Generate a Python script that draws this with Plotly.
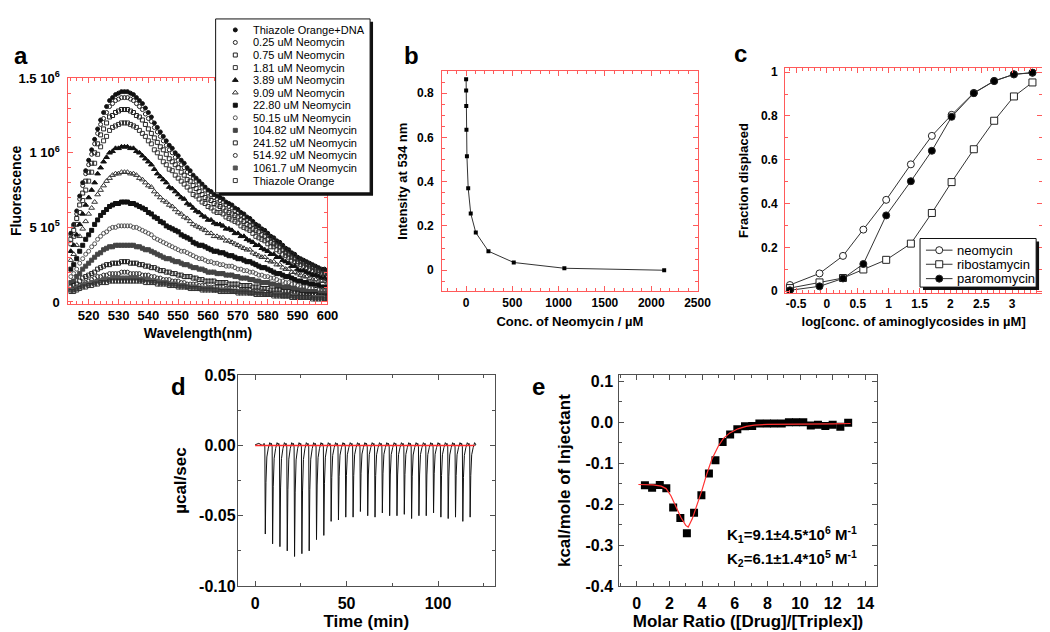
import plotly.graph_objects as go

W, H = 1050, 632
FONT = "Liberation Sans"
RED = "#ff5a5a"
FRAME = "#505050"

# ---------------- panel a: emission spectra (fluorescence, units of 1e4 counts) ----------------
wavelength_nm = list(range(514, 601))
spectra_labels = ["Thiazole Orange+DNA", "0.25 uM Neomycin", "0.75 uM Neomycin", "1.81 uM Neomycin",
                  "3.89 uM Neomycin", "9.09 uM Neomycin", "22.80 uM Neomycin", "50.15 uM Neomycin",
                  "104.82 uM Neomycin", "241.52 uM Neomycin", "514.92 uM Neomycin", "1061.7 uM Neomycin",
                  "Thiazole Orange"]
fl_to_dna = [46,52,61,71,80,88,95,102,109,116,122,127,131,135,137,139,140,141,141,141,
             140,139,137,135,133,130,127,124,120,117,114,111,108,105,103,100,98,95,93,90,
             88,85,83,81,79,77,75,74,72,71,70,69,67,66,65,63,62,60,59,57,56,54,52,51,49,48,
             46,44,43,41,40,38,36,35,33,32,30,29,28,27,26,25,24,23,22,22,21]
fl_neo_0_25 = [45,51,59,69,78,86,92,99,106,113,119,123,127,131,133,135,136,137,137,137,
               136,135,133,131,129,126,123,121,117,114,111,108,105,102,100,97,95,92,90,87,
               86,83,81,79,77,75,73,72,70,69,68,67,65,64,63,61,60,58,57,55,54,52,51,50,48,47,
               45,43,42,40,39,37,35,34,32,31,29,28,27,26,25,24,23,22,21,21,20]
fl_neo_0_75 = [42,48,56,65,73,81,87,93,100,106,112,116,120,124,125,127,128,129,129,129,
               128,127,125,124,122,119,116,113,110,107,104,102,99,96,94,92,90,87,85,82,
               81,78,76,74,72,70,69,68,66,65,64,63,61,60,59,58,57,55,54,52,51,49,48,47,45,44,
               42,40,39,38,37,35,33,32,30,29,27,27,26,25,24,23,22,21,20,20,19]
fl_neo_1_81 = [39,44,52,60,68,75,81,87,93,99,104,108,111,115,117,118,119,120,120,120,
               119,118,117,115,113,111,108,106,102,100,97,94,92,89,88,85,83,81,79,77,
               75,72,71,69,67,66,64,63,61,60,60,59,57,56,55,54,53,51,50,49,48,46,44,43,42,41,
               39,37,37,35,34,32,31,30,28,27,26,25,24,23,22,21,20,20,19,19,18]
fl_neo_3_89 = [34,38,45,52,59,65,70,75,80,86,90,94,97,100,101,103,103,104,104,104,
               103,103,101,100,98,96,94,92,89,86,84,82,80,77,76,74,72,70,69,66,
               65,63,61,60,58,57,55,55,53,52,52,51,49,49,48,46,46,44,44,42,41,40,38,38,36,35,
               34,32,32,30,30,28,27,26,24,24,22,21,21,20,19,18,18,17,16,16,15]
fl_neo_9_09 = [28,32,38,44,49,54,59,63,67,72,75,78,81,83,85,86,86,87,87,87,
               86,86,85,83,82,80,78,77,74,72,70,68,67,65,64,62,60,59,57,56,
               54,52,51,50,49,48,46,46,44,44,43,43,41,41,40,39,38,37,36,35,35,33,32,31,30,30,
               28,27,27,25,25,23,22,22,20,20,19,18,17,17,16,15,15,14,14,14,13]
fl_neo_22_80 = [22,25,29,34,38,42,45,48,52,55,58,60,62,64,65,66,66,67,67,67,
                66,66,65,64,63,62,60,59,57,56,54,53,51,50,49,48,47,45,44,43,
                42,40,39,38,38,37,36,35,34,34,33,33,32,31,31,30,29,29,28,27,27,26,25,24,23,23,
                22,21,20,19,19,18,17,17,16,15,14,14,13,13,12,12,11,11,10,10,10]
fl_neo_50_15 = [17,19,22,26,29,32,34,37,39,42,44,46,47,49,50,50,51,51,51,51,
                51,50,50,49,48,47,46,45,43,42,41,40,39,38,37,36,35,34,34,33,
                32,31,30,29,29,28,27,27,26,26,25,25,24,24,24,23,22,22,21,21,20,20,19,18,18,17,
                17,16,16,15,14,14,13,13,12,12,11,10,10,10,9,9,9,8,8,8,8]
fl_neo_104_82 = [13,14,17,19,22,24,26,28,30,32,33,35,36,37,37,38,38,38,38,38,
                 38,38,37,37,36,35,35,34,33,32,31,30,29,29,28,27,27,26,25,25,
                 24,23,23,22,22,21,20,20,20,19,19,19,18,18,18,17,17,16,16,16,15,15,14,14,13,13,
                 13,12,12,11,11,10,10,10,9,9,8,8,8,7,7,7,7,6,6,6,6]
fl_neo_241_52 = [10,11,12,14,16,17,18,19,20,22,23,24,25,25,26,26,26,27,27,27,
                 26,26,26,25,25,24,24,23,23,22,21,21,20,20,19,19,18,18,17,17,
                 17,16,16,15,15,14,14,14,14,13,13,13,13,12,12,12,12,11,11,11,11,10,10,10,9,9,
                 9,8,8,8,8,7,7,7,6,6,6,5,5,5,5,5,5,4,4,4,4]
fl_neo_514_92 = [8,9,10,11,12,13,14,15,16,17,17,18,18,19,19,19,19,20,20,20,
                 19,19,19,19,18,18,18,17,17,16,16,15,15,15,14,14,14,13,13,12,
                 12,12,12,11,11,11,10,10,10,10,10,10,9,9,9,9,9,8,8,8,8,7,7,7,7,7,
                 6,6,6,6,6,5,5,5,5,4,4,4,4,4,4,3,3,3,3,3,3]
fl_neo_1061_7 = [8,8,9,10,11,12,12,13,13,14,14,15,15,15,16,16,16,16,16,16,
                 16,16,16,15,15,15,15,14,14,14,13,13,13,12,12,12,11,11,11,10,
                 10,10,10,9,9,9,9,9,8,8,8,8,8,8,7,7,7,7,7,7,6,6,6,6,6,5,
                 5,5,5,5,5,4,4,4,4,4,3,3,3,3,3,3,3,3,3,2,2]
fl_to_free = [7,7,8,9,10,10,11,11,12,12,13,13,13,14,14,14,14,14,14,14,
              14,14,14,14,14,13,13,13,13,12,12,12,12,11,11,11,10,10,10,10,
              9,9,9,9,8,8,8,8,8,8,7,7,7,7,7,7,6,6,6,6,6,6,5,5,5,5,
              5,5,4,4,4,4,4,4,3,3,3,3,3,3,3,2,2,2,2,2,2]
FL_UNIT = 1e4
a_xtick_vals = [520, 530, 540, 550, 560, 570, 580, 590, 600]
a_xtick_text = ["520", "530", "540", "550", "560", "570", "580", "590", "600"]
a_ytick_vals = [0, 5e5, 1e6, 1.5e6]
a_ytick_text = ["0", "5 10<sup>5</sup>", "1 10<sup>6</sup>", "1.5 10<sup>6</sup>"]

# ---------------- panel b ----------------
neomycin_conc_uM = [0.25, 0.75, 1.81, 3.89, 9.09, 22.80, 50.15, 104.82, 241.52, 514.92, 1061.7, 2140]
intensity_534 = [0.863, 0.812, 0.742, 0.635, 0.515, 0.371, 0.257, 0.170, 0.086, 0.035, 0.009, 0.0]
b_xtick_vals = [0, 500, 1000, 1500, 2000, 2500]
b_xtick_text = ["0", "500", "1000", "1500", "2000", "2500"]
b_ytick_vals = [0, 0.2, 0.4, 0.6, 0.8]
b_ytick_text = ["0", "0.2", "0.4", "0.6", "0.8"]

# ---------------- panel c ----------------
log_conc_uM = [-0.60, -0.12, 0.26, 0.59, 0.96, 1.36, 1.70, 2.02, 2.38, 2.71, 3.03, 3.33]
frac_neomycin = [0.028, 0.081, 0.161, 0.281, 0.417, 0.579, 0.709, 0.805, 0.905, 0.960, 0.990, 0.997]
frac_ribostamycin = [0.014, 0.040, 0.060, 0.099, 0.143, 0.217, 0.357, 0.498, 0.648, 0.778, 0.889, 0.953]
frac_paromomycin = [0.004, 0.022, 0.058, 0.124, 0.346, 0.502, 0.641, 0.796, 0.904, 0.959, 0.990, 0.998]
c_names = ["neomycin", "ribostamycin", "paromomycin"]
c_xtick_vals = [-0.5, 0, 0.5, 1, 1.5, 2, 2.5, 3]
c_xtick_text = ["-0.5", "0", "0.5", "1", "1.5", "2", "2.5", "3"]
c_ytick_vals = [0, 0.2, 0.4, 0.6, 0.8, 1]
c_ytick_text = ["0", "0.2", "0.4", "0.6", "0.8", "1"]

# ---------------- panel d: ITC raw heat ----------------
injection_time_min = [5.4, 9.4, 13.4, 17.4, 21.4, 25.4, 29.4, 33.4, 37.4, 41.4, 45.4, 49.4, 53.4, 57.4,
                      61.4, 65.4, 69.4, 73.4, 77.4, 81.4, 85.4, 89.4, 93.4, 97.4, 101.4, 105.4, 109.4,
                      113.4, 117.4]
peak_ucal_s = [-0.063, -0.070, -0.072, -0.075, -0.079, -0.077, -0.075, -0.067, -0.064, -0.054,
               -0.053, -0.051, -0.051, -0.047, -0.050, -0.051, -0.048, -0.050, -0.050, -0.049,
               -0.052, -0.050, -0.050, -0.048, -0.051, -0.052, -0.051, -0.054, -0.051]
baseline_time = [0, 120]
baseline_val = [0.0, 0.0]
d_xtick_vals = [0, 50, 100]
d_xtick_text = ["0", "50", "100"]
d_ytick_vals = [-0.10, -0.05, 0.0, 0.05]
d_ytick_text = ["-0.10", "-0.05", "0.00", "0.05"]

# ---------------- panel e: integrated heats ----------------
molar_ratio = [0.50, 0.94, 1.41, 1.81, 2.23, 2.67, 3.07, 3.51, 3.96, 4.42, 4.82, 5.26, 5.72, 6.16,
               6.63, 7.07, 7.51, 7.97, 8.41, 8.88, 9.32, 9.76, 10.20, 10.66, 11.10, 11.55, 12.00,
               12.47, 12.95]
kcal_per_mole = [-0.154, -0.160, -0.153, -0.161, -0.208, -0.234, -0.271, -0.221, -0.178, -0.125,
                 -0.093, -0.048, -0.030, -0.017, -0.010, -0.009, -0.003, -0.003, -0.003, -0.003,
                 0.000, 0.000, 0.000, -0.008, -0.006, -0.009, -0.006, -0.011, -0.001]
fit_ratio = [0.1, 0.5, 1.0, 1.5, 1.8, 2.1, 2.4, 2.7, 3.0, 3.15, 3.4, 3.7, 4.0, 4.3, 4.6, 5.0, 5.3,
             5.7, 6.2, 6.7, 7.2, 8.0, 9.0, 10.0, 11.0, 12.0, 13.1]
fit_kcal = [-0.152, -0.152, -0.153, -0.156, -0.162, -0.180, -0.205, -0.232, -0.252, -0.256, -0.236,
            -0.202, -0.165, -0.125, -0.090, -0.058, -0.040, -0.026, -0.016, -0.010, -0.007, -0.005,
            -0.005, -0.005, -0.005, -0.004, -0.003]
e_xtick_vals = [0, 2, 4, 6, 8, 10, 12, 14]
e_xtick_text = ["0", "2", "4", "6", "8", "10", "12", "14"]
e_ytick_vals = [-0.4, -0.3, -0.2, -0.1, 0.0, 0.1]
e_ytick_text = ["-0.4", "-0.3", "-0.2", "-0.1", "0.0", "0.1"]

# ---------------- styles ----------------
a_series = [fl_to_dna, fl_neo_0_25, fl_neo_0_75, fl_neo_1_81, fl_neo_3_89, fl_neo_9_09, fl_neo_22_80,
            fl_neo_50_15, fl_neo_104_82, fl_neo_241_52, fl_neo_514_92, fl_neo_1061_7, fl_to_free]
a_styles = [("circle", "#111", 4), ("circle-open", "#222", 4), ("square-open", "#222", 4),
            ("square-open", "#333", 4), ("triangle-up", "#111", 5), ("triangle-up-open", "#333", 5),
            ("square", "#111", 4), ("circle-open", "#555", 4), ("square", "#444", 4),
            ("square-open", "#222", 4), ("circle-open", "#333", 4), ("square", "#555", 4),
            ("square-open", "#333", 4)]


def fx(px):
    return px / W


def fy(py):
    return 1 - py / H


def make_axis(dom, rng, anchor, color, vals, text, minor_dtick, minor_tick0, fsize, title, tsize, standoff,
              label_shift=0):
    d = dict(domain=dom, range=rng, anchor=anchor, showline=True, linecolor=color, linewidth=1,
             mirror="allticks", ticks="inside", ticklen=5, tickwidth=1, tickcolor=color,
             tickmode="array", tickvals=vals, ticktext=text, ticklabelstandoff=label_shift,
             minor=dict(ticks="inside", ticklen=3, tickwidth=1, tickcolor=color, tickmode="linear",
                        tick0=minor_tick0, dtick=minor_dtick),
             showgrid=False, zeroline=False, fixedrange=True,
             tickfont=dict(family=FONT, size=fsize, color="black", weight="bold"),
             title=dict(text=title, standoff=standoff,
                        font=dict(family=FONT, size=tsize, color="black", weight="bold")))
    return d


fig = go.Figure()

# panel a traces
for name, vals, (sym, col, sz) in zip(spectra_labels, a_series, a_styles):
    fig.add_trace(go.Scatter(x=wavelength_nm, y=[v * FL_UNIT for v in vals], mode="markers", name=name,
                             marker=dict(symbol=sym, size=sz, color=col, line=dict(width=1, color=col)),
                             xaxis="x", yaxis="y", showlegend=False, hoverinfo="skip"))

# panel b
fig.add_trace(go.Scatter(x=neomycin_conc_uM, y=intensity_534, mode="lines+markers",
                         line=dict(color="#333", width=1),
                         marker=dict(symbol="square", size=4, color="black"),
                         xaxis="x2", yaxis="y2", showlegend=False))

# panel c
c_styles = [("circle", "white"), ("square", "white"), ("circle", "black")]
for name, vals, (sym, fill) in zip(c_names, [frac_neomycin, frac_ribostamycin, frac_paromomycin], c_styles):
    fig.add_trace(go.Scatter(x=log_conc_uM, y=vals, mode="lines+markers", name=name,
                             line=dict(color="#333", width=1),
                             marker=dict(symbol=sym, size=7, color=fill, line=dict(width=1, color="#222")),
                             xaxis="x3", yaxis="y3", showlegend=False))

# panel d: raw thermogram built from injection times and peak heights
d_t, d_v = [0.0, 2.0, 4.0], [0.0005, 0.0015, 0.0]
for t, m in zip(injection_time_min, peak_ucal_s):
    d_t += [t - 0.5, t - 0.1, t + 0.15, t + 0.5, t + 1.0, t + 1.8, t + 2.6, t + 3.3]
    d_v += [0.0015, -0.001, m, m * 0.42, m * 0.13, m * 0.03, 0.002, 0.0005]
d_t.append(120.0)
d_v.append(0.0)
fig.add_trace(go.Scatter(x=d_t, y=d_v, mode="lines", line=dict(color="#111", width=1),
                         xaxis="x4", yaxis="y4", showlegend=False))
fig.add_trace(go.Scatter(x=baseline_time, y=baseline_val, mode="lines", line=dict(color="#ff2a2a", width=1.5),
                         xaxis="x4", yaxis="y4", showlegend=False))

# panel e
fig.add_trace(go.Scatter(x=molar_ratio, y=kcal_per_mole, mode="markers",
                         marker=dict(symbol="square", size=8, color="black"),
                         xaxis="x5", yaxis="y5", showlegend=False))
fig.add_trace(go.Scatter(x=fit_ratio, y=fit_kcal, mode="lines", line=dict(color="#ff3030", width=1.2),
                         xaxis="x5", yaxis="y5", showlegend=False))

# ---------------- hand-drawn legends on a pixel overlay ----------------
LA = dict(x0=208, y0=2, x1=365, y1=181, row0=13.3, dy=12.92, mx=228, tx=244)
LC = dict(x0=924, y0=228, x1=1042, y1=278, rows=[240, 254.5, 269.3], lx0=930, lx1=957, tx=960)

for i, (sym, col, sz) in enumerate(a_styles):
    fig.add_trace(go.Scatter(x=[LA["mx"]], y=[LA["row0"] + i * LA["dy"]], mode="markers",
                             marker=dict(symbol=sym, size=sz, color=col, line=dict(width=1, color=col)),
                             xaxis="x6", yaxis="y6", showlegend=False, hoverinfo="skip"))
for i, (sym, fill) in enumerate(c_styles):
    yy = LC["rows"][i]
    fig.add_trace(go.Scatter(x=[LC["lx0"], (LC["lx0"] + LC["lx1"]) / 2, LC["lx1"]], y=[yy, yy, yy],
                             mode="lines", line=dict(color="#333", width=1),
                             xaxis="x6", yaxis="y6", showlegend=False, hoverinfo="skip"))
    fig.add_trace(go.Scatter(x=[(LC["lx0"] + LC["lx1"]) / 2], y=[yy], mode="markers",
                             marker=dict(symbol=sym, size=7, color=fill, line=dict(width=1, color="#222")),
                             xaxis="x6", yaxis="y6", showlegend=False, hoverinfo="skip"))

shapes = []
for L in (LA, LC):
    shapes.append(dict(type="rect", xref="x6", yref="y6", layer="below", x0=L["x0"] + 3, y0=L["y0"] + 3,
                       x1=L["x1"] + 3, y1=L["y1"] + 3, fillcolor="#111", line=dict(width=0)))
    shapes.append(dict(type="rect", xref="x6", yref="y6", layer="below", x0=L["x0"], y0=L["y0"],
                       x1=L["x1"], y1=L["y1"], fillcolor="white", line=dict(width=1, color="#111")))

annotations = []
for i, name in enumerate(spectra_labels):
    annotations.append(dict(x=fx(LA["tx"]), y=fy(LA["row0"] + i * LA["dy"]), xref="paper", yref="paper",
                            text=name, showarrow=False, xanchor="left", yanchor="middle",
                            font=dict(family=FONT, size=11, color="black")))
for i, name in enumerate(c_names):
    annotations.append(dict(x=fx(LC["tx"]), y=fy(LC["rows"][i]), xref="paper", yref="paper",
                            text=name, showarrow=False, xanchor="left", yanchor="middle",
                            font=dict(family=FONT, size=13, color="black")))
for letter, px, py in [("a", 10, 40), ("b", 407, 40), ("c", 742, 38), ("d", 170, 380), ("e", 536, 380)]:
    annotations.append(dict(x=fx(px), y=fy(py), xref="paper", yref="paper", text=letter, showarrow=False,
                            xanchor="center", yanchor="middle",
                            font=dict(family=FONT, size=24, color="black", weight="bold")))
annotations.append(dict(x=fx(726), y=fy(533), xref="paper", yref="paper", showarrow=False,
                        xanchor="left", yanchor="middle",
                        text="K<sub>1</sub>=9.1±4.5*10<sup>6</sup> M<sup>-1</sup>",
                        font=dict(family=FONT, size=15, color="black", weight="bold")))
annotations.append(dict(x=fx(726), y=fy(557), xref="paper", yref="paper", showarrow=False,
                        xanchor="left", yanchor="middle",
                        text="K<sub>2</sub>=6.1±1.4*10<sup>5</sup> M<sup>-1</sup>",
                        font=dict(family=FONT, size=15, color="black", weight="bold")))

layout = dict(
    width=W, height=H, margin=dict(l=0, r=0, t=0, b=0), paper_bgcolor="white",
    plot_bgcolor="rgba(0,0,0,0)", showlegend=False, shapes=shapes, annotations=annotations,
    xaxis=make_axis([fx(58.3), fx(321.7)], [513.2, 600], "y", RED, a_xtick_vals, a_xtick_text, 2, 514,
                    13, "Wavelength(nm)", 14, 6),
    yaxis=make_axis([fy(295), fy(63)], [-11000, 1.5e6], "x", RED, a_ytick_vals, a_ytick_text, 1e5, 0,
                    13, "Fluorescence", 14, 1, 5),
    xaxis2=make_axis([fx(438.3), fx(697.8)], [-258, 2500], "y2", RED, b_xtick_vals, b_xtick_text, 100, 0,
                     12, "Conc. of Neomycin / µM", 13, 8),
    yaxis2=make_axis([fy(282.3), fy(55.7)], [-0.095, 0.9], "x2", RED, b_ytick_vals, b_ytick_text, 0.05, 0,
                     12, "Intensity at 534 nm", 13, 6, 5),
    xaxis3=make_axis([fx(786.7), fx(1048.3)], [-0.68, 3.49], "y3", RED, c_xtick_vals, c_xtick_text, 0.1, 0,
                     12, "log[conc. of aminoglycosides in µM]", 13, 6),
    yaxis3=make_axis([fy(284), fy(52.7)], [-0.008, 1.018], "x3", RED, c_ytick_vals, c_ytick_text, 0.1, 0,
                     12, "Fraction displaced", 13, 9, 4),
    xaxis4=make_axis([fx(230.5), fx(491.7)], [-9.5, 131], "y4", FRAME, d_xtick_vals, d_xtick_text, 25, 0,
                     16, "Time (min)", 17, 1, 3),
    yaxis4=make_axis([fy(585.7), fy(368.7)], [-0.10, 0.05], "x4", FRAME, d_ytick_vals, d_ytick_text, 0.025, 0,
                     16, "µcal/sec", 17, 8, -2),
    xaxis5=make_axis([fx(618.3), fx(880)], [-1.07, 14.7], "y5", FRAME, e_xtick_vals, e_xtick_text, 1, 0,
                     16, "Molar Ratio ([Drug]/[Triplex])", 17, 3, 3),
    yaxis5=make_axis([fy(585.7), fy(368.7)], [-0.4, 0.115], "x5", FRAME, e_ytick_vals, e_ytick_text, 0.05, 0,
                     16, "kcal/mole of Injectant", 17, 10, 2),
    xaxis6=dict(domain=[0, 1], range=[0, W], anchor="y6", visible=False, fixedrange=True),
    yaxis6=dict(domain=[0, 1], range=[H, 0], anchor="x6", visible=False, fixedrange=True),
)
fig.update_layout(**layout)
fig.write_html("out.html")
